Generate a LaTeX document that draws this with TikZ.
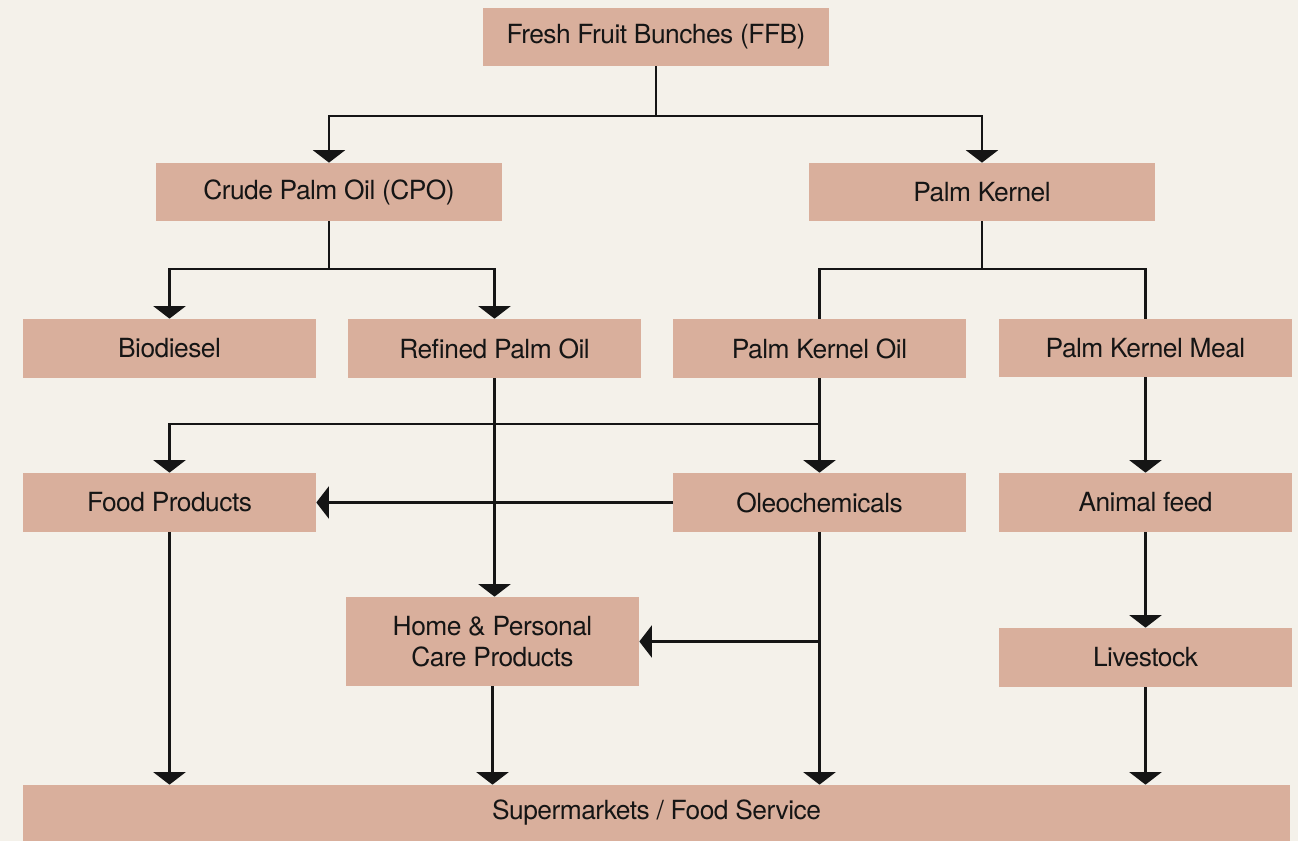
\documentclass[tikz,border=0pt]{standalone}
\usepackage{fontspec}
\setmainfont[LetterSpace=-2]{TeX Gyre Heros}
\usetikzlibrary{arrows.meta}
\definecolor{bgc}{HTML}{F4F1EA}
\definecolor{boxc}{HTML}{D9AF9C}
\definecolor{inkc}{HTML}{151515}
\begin{document}
\begin{tikzpicture}[x=0.02cm,y=-0.02cm]
  \tikzstyle{every node}=[fill=boxc,text=inkc,inner sep=0pt,align=center,font=\fontsize{15}{18}\selectfont]
  \tikzstyle{wide}=[minimum width=6.92cm,minimum height=1.16cm]
  \tikzstyle{std}=[minimum width=5.86cm,minimum height=1.18cm]
  \tikzstyle{link}=[draw=inkc,line width=1.3pt]
  \tikzstyle{tip}=[link,-{Triangle[width=0.64cm,length=0.25cm]}]
  \fill[bgc] (0,0) rectangle (1298,841);
  \useasboundingbox (0,0) rectangle (1298,841);
  \node[wide] (ffb) at (656,37) {Fresh Fruit Bunches (FFB)};
  \node[wide] (cpo) at (329,192) {Crude Palm Oil (CPO)};
  \node[wide] (pk) at (982,192) {Palm Kernel};
  \node[std] (bio) at (169.5,348.5) {Biodiesel};
  \node[std] (rpo) at (494.5,348.5) {Refined Palm Oil};
  \node[std] (pko) at (819.5,348.5) {Palm Kernel Oil};
  \node[std,minimum height=1.16cm] (pkm) at (1145.5,348) {Palm Kernel Meal};
  \node[std] (food) at (169.5,502.5) {Food Products};
  \node[std] (oleo) at (819.5,502.5) {Oleochemicals};
  \node[std] (feed) at (1145.5,502.5) {Animal feed};
  \node[std,minimum height=1.78cm] (home) at (492.5,641.5) {Home \& Personal\\Care Products};
  \node[std] (live) at (1145.5,657.5) {Livestock};
  \node[minimum width=25.34cm,minimum height=1.12cm] (shop) at (656.5,813) {Supermarkets / Food Service};
  \coordinate (ffbj) at (656,116);
  \coordinate (cpoj) at (329,269);
  \coordinate (pkj) at (982,269);
  \coordinate (pkoj) at (819.5,424);
  \coordinate (oleoj) at (oleo |- home);
  \draw[link] (ffb) -- (ffbj);
  \draw[tip] (ffbj) -| (cpo);
  \draw[tip] (ffbj) -| (pk);
  \draw[link] (cpo) -- (cpoj);
  \draw[tip] (cpoj) -| (bio);
  \draw[tip] (cpoj) -| (rpo);
  \draw[link] (pk) -- (pkj);
  \draw[link] (pkj) -| (pko);
  \draw[link] (pkj) -| (pkm);
  \draw[tip] (pko) -- (oleo);
  \draw[tip] (pkoj) -| (food);
  \draw[tip] (rpo.south) -- (rpo.south |- home.north);
  \draw[tip] (oleo) -- (food);
  \draw[tip] (oleoj) -- (home);
  \draw[tip] (pkm) -- (feed);
  \draw[tip] (feed) -- (live);
  \draw[tip] (food) -- (food |- shop.north);
  \draw[tip] (home) -- (home |- shop.north);
  \draw[tip] (oleo) -- (oleo |- shop.north);
  \draw[tip] (live) -- (live |- shop.north);
\end{tikzpicture}
\end{document}
